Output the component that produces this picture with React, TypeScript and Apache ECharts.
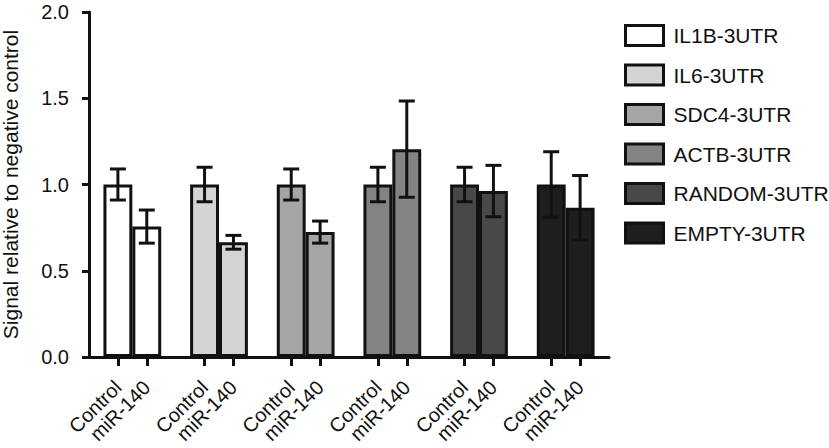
import React, { useEffect, useRef } from "react";
import * as echarts from "echarts";

const groups = ["IL1B-3UTR", "IL6-3UTR", "SDC4-3UTR", "ACTB-3UTR", "RANDOM-3UTR", "EMPTY-3UTR"];
const controlValues = [1.0, 1.0, 1.0, 1.0, 1.0, 1.0];
const controlErr = [0.09, 0.1, 0.09, 0.1, 0.1, 0.19];
const mirValues = [0.756, 0.665, 0.724, 1.205, 0.962, 0.865];
const mirErr = [0.096, 0.04, 0.064, 0.279, 0.149, 0.187];
const conditionLabels = ["Control", "miR-140"];
const yTicks = [0, 0.5, 1.0, 1.5, 2.0];
const colors = ["#ffffff", "#d4d4d4", "#a5a5a5", "#838383", "#484848", "#1e1e1e"];

const FONT = '"Liberation Sans", Arial, sans-serif';
const INK = "#111111";

export default function App() {
  const ref = useRef<HTMLDivElement>(null);
  useEffect(() => {
    if (!ref.current) return;
    const chart = echarts.init(ref.current, null, { renderer: "svg" });

    // point axis: 3 points per group + closing point
    const pointKeys: string[] = [];
    const pointLabels: string[] = [];
    for (let g = 0; g < groups.length; g++) {
      pointKeys.push("gap" + g, "c" + g, "m" + g);
      pointLabels.push("", conditionLabels[0], conditionLabels[1]);
    }
    pointKeys.push("end");
    pointLabels.push("");

    const barSeries: any[] = [];
    groups.forEach((name, i) => {
      const style = { color: colors[i], borderColor: INK, borderWidth: 3 };
      barSeries.push({
        name,
        type: "bar",
        stack: "control",
        xAxisIndex: 0,
        data: controlValues.map((v, j) => (j === i ? v : "-")),
        itemStyle: style,
        barGap: "0%",
        barCategoryGap: "33.333%",
        z: 2,
      });
      barSeries.push({
        name,
        type: "bar",
        stack: "mir",
        xAxisIndex: 0,
        data: mirValues.map((v, j) => (j === i ? v : "-")),
        itemStyle: style,
        barGap: "0%",
        barCategoryGap: "33.333%",
        z: 2,
      });
    });

    const errData: number[][] = [];
    groups.forEach((_, i) => {
      errData.push([i, -1, controlValues[i] - controlErr[i], controlValues[i] + controlErr[i]]);
      errData.push([i, 1, mirValues[i] - mirErr[i], mirValues[i] + mirErr[i]]);
    });

    const option: any = {
      animation: false,
      textStyle: { fontFamily: FONT, color: INK },
      grid: { left: 89, right: 220, top: 12, bottom: 91, containLabel: false, outerBoundsMode: "none" },
      legend: {
        data: groups,
        orient: "vertical",
        left: 624,
        top: 24,
        padding: 0,
        itemWidth: 38,
        itemHeight: 20,
        itemGap: 16.5,
        icon: "rect",
        itemStyle: { borderColor: INK, borderWidth: 3 },
        textStyle: { fontSize: 21, color: INK, fontFamily: FONT, padding: [0, 0, 0, 5] },
        selectedMode: false,
      },
      xAxis: [
        {
          type: "category",
          data: groups,
          position: "bottom",
          axisLine: { show: true, lineStyle: { color: INK, width: 3 } },
          axisTick: { show: false },
          axisLabel: { show: false },
          splitLine: { show: false },
        },
        {
          type: "category",
          data: pointKeys,
          position: "bottom",
          boundaryGap: false,
          axisLine: { show: false },
          axisTick: {
            show: true,
            length: 9,
            interval: (i: number) => i % 3 !== 0 && i < pointKeys.length - 1,
            lineStyle: { color: INK, width: 3 },
          },
          axisLabel: {
            interval: 0,
            rotate: 45,
            margin: 27,
            fontSize: 20,
            color: INK,
            fontFamily: FONT,
            formatter: (_v: string, idx: number) => pointLabels[idx],
          },
          splitLine: { show: false },
        },
      ],
      yAxis: {
        type: "value",
        min: 0,
        max: 2,
        interval: 0.5,
        name: "Signal relative to negative control",
        nameLocation: "middle",
        nameGap: 68,
        nameTextStyle: { fontSize: 21, color: INK, fontFamily: FONT },
        axisLine: { show: true, lineStyle: { color: INK, width: 3 } },
        axisTick: { show: true, length: 7, lineStyle: { color: INK, width: 3 } },
        axisLabel: {
          fontSize: 20,
          color: INK,
          fontFamily: FONT,
          margin: 20,
          formatter: (v: number) => (yTicks.includes(v) ? v.toFixed(1) : ""),
        },
        splitLine: { show: false },
      },
      series: [
        ...barSeries,
        {
          name: "errorbars",
          type: "custom",
          xAxisIndex: 0,
          data: errData,
          encode: { x: 0, y: [2, 3] },
          z: 5,
          renderItem: (_params: any, api: any) => {
            const g = api.value(0);
            const side = api.value(1);
            const lo = api.value(2);
            const hi = api.value(3);
            const center = api.coord([g, 0]);
            const band = api.size([1, 0])[0];
            const x = center[0] + (side * band) / 6;
            const yLo = api.coord([g, lo])[1];
            const yHi = api.coord([g, hi])[1];
            const cap = 8;
            const st = { stroke: INK, lineWidth: 3 };
            return {
              type: "group",
              children: [
                { type: "line", shape: { x1: x, y1: yLo, x2: x, y2: yHi }, style: st },
                { type: "line", shape: { x1: x - cap, y1: yHi, x2: x + cap, y2: yHi }, style: st },
                { type: "line", shape: { x1: x - cap, y1: yLo, x2: x + cap, y2: yLo }, style: st },
              ],
            };
          },
        },
      ],
    };
    chart.setOption(option);
    return () => chart.dispose();
  }, []);
  return (
    <div
      ref={ref}
      style={{ position: "fixed", left: 0, top: 0, width: 829, height: 448, background: "#ffffff" }}
    />
  );
}
